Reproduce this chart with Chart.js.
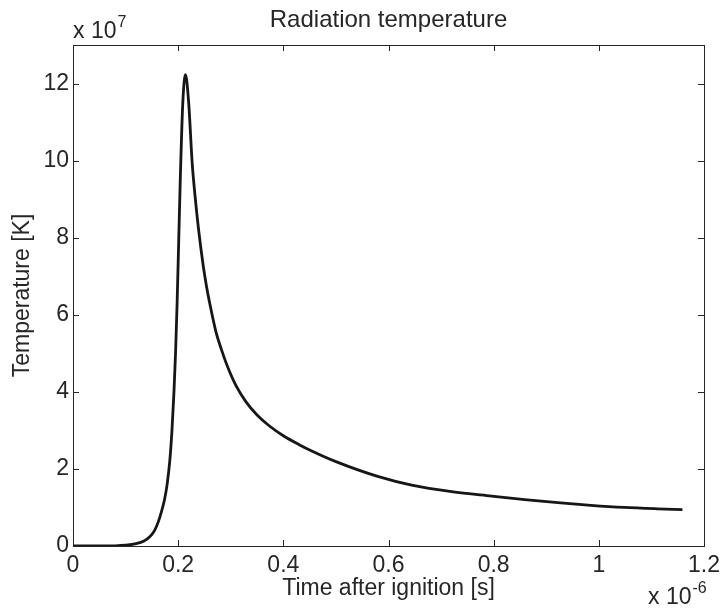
<!DOCTYPE html>
<html>
<head>
<meta charset="utf-8">
<script src="https://cdn.jsdelivr.net/npm/chart.js@4/dist/chart.umd.min.js"></script>
<style>
  html, body { margin: 0; padding: 0; background: #ffffff; }
  #wrap { width: 726px; height: 613px; position: relative; }
</style>
</head>
<body>
<div id="wrap"><canvas id="c" width="726" height="613"></canvas></div>
<script>
// Time after ignition, in units of 1e-6 s
const timeValues = [0, 0.04, 0.08, 0.10, 0.12, 0.135, 0.146, 0.155, 0.162, 0.168, 0.174, 0.179, 0.184, 0.188, 0.192, 0.195, 0.198, 0.201, 0.204, 0.2088, 0.2139, 0.220, 0.2266, 0.232, 0.2385, 0.248, 0.254, 0.26, 0.272, 0.283, 0.294, 0.31, 0.329, 0.35, 0.373, 0.40, 0.43, 0.455, 0.5, 0.581, 0.644, 0.72, 0.796, 0.859, 0.922, 0.985, 1.048, 1.111, 1.159];
// Radiation temperature, in units of 1e7 K
const temperatureValues = [0, 0, 0.005, 0.02, 0.06, 0.13, 0.24, 0.4, 0.62, 0.88, 1.2, 1.6, 2.2, 2.95, 4.0, 5.0, 6.3, 7.9, 9.5, 11.5, 12.23, 11.5, 9.95, 9.1, 8.25, 7.24, 6.73, 6.3, 5.55, 5.07, 4.65, 4.16, 3.74, 3.40, 3.12, 2.86, 2.63, 2.46, 2.19, 1.80, 1.58, 1.41, 1.295, 1.205, 1.125, 1.055, 1.0, 0.965, 0.945];
const xTicks = [0, 0.2, 0.4, 0.6, 0.8, 1, 1.2];
const yTicks = [0, 2, 4, 6, 8, 10, 12];
const titleText = 'Radiation temperature';
const xTitle = 'Time after ignition [s]';
const yTitle = 'Temperature [K]';
const xExponent = '-6';
const yExponent = '7';

const FONT = '"Liberation Sans", Arial, Helvetica, sans-serif';
const TEXT = '#262626';
const AXIS = '#262626';

const points = timeValues.map((t, i) => ({ x: t, y: temperatureValues[i] }));

const frame = {
  id: 'frame',
  afterDraw(chart) {
    const { ctx, chartArea: a, scales } = chart;
    ctx.save();
    ctx.strokeStyle = AXIS;
    ctx.lineWidth = 1;
    ctx.strokeRect(Math.round(a.left) + 0.5, Math.round(a.top) + 0.5,
                   Math.round(a.right - a.left), Math.round(a.bottom - a.top));
    const L = 6;
    ctx.beginPath();
    scales.x.ticks.forEach(t => {
      const px = Math.round(scales.x.getPixelForValue(t.value)) + 0.5;
      ctx.moveTo(px, a.bottom); ctx.lineTo(px, a.bottom - L);
      ctx.moveTo(px, a.top); ctx.lineTo(px, a.top + L);
    });
    scales.y.ticks.forEach(t => {
      const py = Math.round(scales.y.getPixelForValue(t.value)) + 0.5;
      ctx.moveTo(a.left, py); ctx.lineTo(a.left + L, py);
      ctx.moveTo(a.right, py); ctx.lineTo(a.right - L, py);
    });
    ctx.stroke();

    // title
    ctx.fillStyle = TEXT;
    ctx.textAlign = 'center';
    ctx.textBaseline = 'alphabetic';
    ctx.font = '24px ' + FONT;
    ctx.fillText(titleText, (a.left + a.right) / 2, 27);

    // exponent labels
    ctx.textAlign = 'left';
    ctx.font = '23px ' + FONT;
    ctx.fillText('x 10', a.left, 38);
    let w = ctx.measureText('x 10').width;
    ctx.font = '16px ' + FONT;
    ctx.fillText(yExponent, a.left + w + 1, 27);

    ctx.font = '23px ' + FONT;
    ctx.fillText('x 10', 648, 604);
    w = ctx.measureText('x 10').width;
    ctx.font = '16px ' + FONT;
    ctx.fillText(xExponent, 648 + w + 1, 593);
    ctx.restore();
  }
};

new Chart(document.getElementById('c'), {
  type: 'line',
  data: {
    datasets: [{
      data: points,
      borderColor: '#161616',
      borderWidth: 2.8,
      pointRadius: 0,
      fill: false,
      cubicInterpolationMode: 'monotone'
    }]
  },
  options: {
    responsive: false,
    animation: false,
    layout: { padding: { left: 0, top: 45, right: 19, bottom: 0 } },
    plugins: { legend: { display: false }, tooltip: { enabled: false }, title: { display: false } },
    scales: {
      x: {
        type: 'linear',
        min: 0, max: 1.2,
        afterBuildTicks(s) { s.ticks = xTicks.map(v => ({ value: v })); },
        afterFit(s) { s.height = 67; },
        grid: { display: true, drawOnChartArea: false, drawTicks: false },
        border: { display: false },
        ticks: {
          color: TEXT, font: { family: FONT, size: 23 }, padding: 6, maxRotation: 0,
          callback: v => String(v)
        },
        title: { display: true, text: xTitle, color: TEXT, font: { family: FONT, size: 23 }, padding: { top: 0, bottom: 11 } }
      },
      y: {
        type: 'linear',
        min: 0, max: 13,
        afterBuildTicks(s) { s.ticks = yTicks.map(v => ({ value: v })); },
        afterFit(s) { s.width = 73; },
        grid: { display: true, drawOnChartArea: false, drawTicks: false },
        border: { display: false },
        ticks: {
          color: TEXT, font: { family: FONT, size: 23 }, padding: 4,
          callback: v => String(v)
        },
        title: { display: true, text: yTitle, color: TEXT, font: { family: FONT, size: 23 }, padding: { top: 9, bottom: 0 } }
      }
    }
  },
  plugins: [frame]
});
</script>
</body>
</html>
